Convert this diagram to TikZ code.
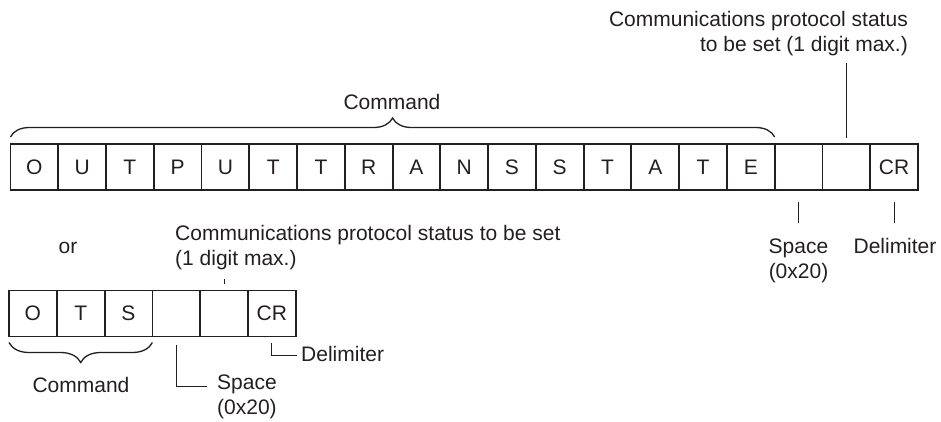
\documentclass[tikz,border=0pt]{standalone}
\usepackage{fontspec}
\setmainfont{Liberation Sans}
\usepackage{tikz}
\usetikzlibrary{decorations.pathreplacing,positioning}
\definecolor{inkdark}{HTML}{231F20}

\begin{document}
\begin{tikzpicture}[
  x=1pt, y=-1pt,
  every node/.style={text=inkdark},
  cell/.style={draw=inkdark, line width=1.8pt, minimum width=47.8pt, minimum height=46pt, inner sep=0pt, outer sep=0pt, font=\fontsize{21pt}{25pt}\selectfont},
  lbl/.style={inner sep=0pt, font=\fontsize{21pt}{25pt}\selectfont},
  brace/.style={draw=inkdark, line width=1.3pt, decorate},
  leader/.style={draw=inkdark, line width=0.9pt}
]
\useasboundingbox (0,0) rectangle (941,422);

% long form
\foreach \ch [count=\i] in {O,U,T,P,U,T,T,R,A,N,S,S,T,A,T,E,{},{},CR}
  \node[cell] (t\i) at ({10.5+(\i-0.5)*47.76},167) {\ch};

\draw[brace, decoration={brace, amplitude=19pt, raise=7pt}] (t1.north west) -- (t16.north east);
\node[lbl, anchor=base] (cmdtop) at (392,110) {Command};

\node[lbl, align=right, anchor=base east] (stat1) at (908,52) {Communications protocol status\\to be set (1 digit max.)};
\draw[leader] ([yshift=6pt]t18.north) -- ([yshift=-6pt]stat1.south -| t18.north);

\node[lbl, align=center, anchor=base] (space1) at (798.5,278) {Space\\(0x20)};
\node[lbl, anchor=base] (delim1) at (895,253) {Delimiter};
\draw[leader] ([yshift=-12pt]t17.south) -- ++(0,21);
\draw[leader] ([yshift=-12pt]t19.south) -- ++(0,21);

% short form
\node[lbl, anchor=base] (or) at (68,253) {or};

\foreach \ch [count=\i] in {O,T,S,{},{},CR}
  \node[cell] (b\i) at ({9+(\i-0.5)*47.8},313.5) {\ch};

\draw[brace, decoration={brace, amplitude=20pt, raise=6pt}] (b3.south east) -- (b1.south west);
\node[lbl, anchor=base] (cmdbot) at (81,392) {Command};

\node[lbl, align=left, anchor=base west] (stat2) at (175,265) {Communications protocol status to be set\\(1 digit max.)};
\draw[leader] ([yshift=7pt]b5.north) -- ++(0,-5);

\node[lbl, align=center, anchor=base west] (space2) at (217,414) {Space\\(0x20)};
\coordinate (sp2end) at (207,386);
\draw[leader] ([yshift=-8pt]b4.south) |- (sp2end);

\node[lbl, anchor=base west] (delim2) at (301,361) {Delimiter};
\coordinate (dl2end) at (297,355);
\draw[leader] ([yshift=-6pt]b6.south) |- (dl2end);
\end{tikzpicture}
\end{document}
